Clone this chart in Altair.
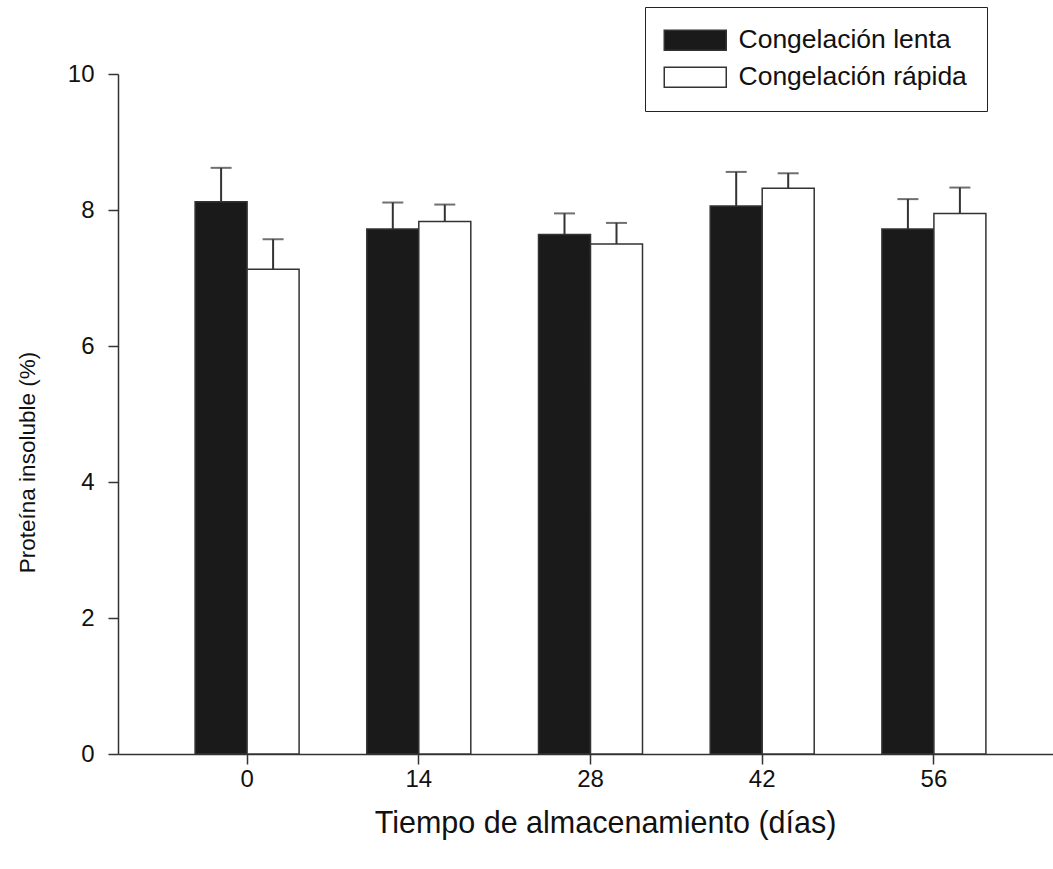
import altair as alt
import pandas as pd

dias = ["0", "14", "28", "42", "56"]
series = ["Congelación lenta", "Congelación rápida"]
lenta = [8.12, 7.72, 7.64, 8.06, 7.72]
lenta_err = [0.50, 0.39, 0.31, 0.50, 0.44]
rapida = [7.13, 7.83, 7.50, 8.32, 7.95]
rapida_err = [0.44, 0.25, 0.31, 0.22, 0.38]

rows = []
for i, d in enumerate(dias):
    rows.append({"dia": d, "serie": series[0], "valor": lenta[i], "sup": lenta[i] + lenta_err[i]})
    rows.append({"dia": d, "serie": series[1], "valor": rapida[i], "sup": rapida[i] + rapida_err[i]})
df = pd.DataFrame(rows)

FONT = "Liberation Sans"

x_enc = alt.X(
    "dia:N",
    sort=dias,
    scale=alt.Scale(range=[0, 945], paddingInner=0.3943, paddingOuter=0.449),
    axis=alt.Axis(
        title="Tiempo de almacenamiento (días)",
        labelAngle=0,
        labelPadding=3,
        titleFontSize=30.5,
        titleX=487,
        titleY=69,
        titleBaseline="middle",
    ),
)
xoff = alt.XOffset("serie:N", sort=series, scale=alt.Scale(paddingInner=0, paddingOuter=0))

bars = alt.Chart(df).mark_bar(stroke="#333333", strokeWidth=1.5).encode(
    x=x_enc,
    xOffset=xoff,
    y=alt.Y(
        "valor:Q",
        scale=alt.Scale(domain=[0, 10], nice=False, zero=True),
        axis=alt.Axis(
            title="Proteína insoluble (%)",
            values=[0, 2, 4, 6, 8, 10],
            format="d",
            labelPadding=14,
            titleFontSize=22.5,
            titleX=-91,
            titleY=388,
            titleBaseline="middle",
        ),
    ),
    fill=alt.Fill(
        "serie:N",
        sort=series,
        scale=alt.Scale(domain=series, range=["#1a1a1a", "#ffffff"]),
        legend=alt.Legend(
            title=None,
            orient="none",
            legendX=527,
            legendY=-67,
            direction="vertical",
            strokeColor="#222222",
            fillColor="#ffffff",
            padding=20,
            symbolType="M-1.4,-1H4.8V1H-1.4Z",
            symbolSize=400,
            symbolStrokeColor="#333333",
            symbolStrokeWidth=1.5,
            labelOffset=47,
            labelFontSize=26.5,
            labelFont=FONT,
            labelColor="#111111",
            labelLimit=0,
            rowPadding=10,
        ),
    ),
)

stems = alt.Chart(df).mark_rule(color="#333333", strokeWidth=2).encode(
    x=x_enc, xOffset=xoff, y="valor:Q", y2="sup:Q"
)
caps = alt.Chart(df).mark_tick(color="#333333", thickness=2, size=21, orient="horizontal").encode(
    x=x_enc, xOffset=xoff, y="sup:Q"
)

chart = alt.layer(bars, stems, caps).properties(
    width=935,
    height=680,
    background="white",
    autosize=alt.AutoSizeParams(type="none"),
    padding={"left": 118, "top": 74, "right": 0, "bottom": 115},
).configure_view(stroke=None).configure_axis(
    domainColor="#333333",
    domainWidth=1.5,
    tickColor="#333333",
    tickWidth=1.5,
    tickSize=10,
    labelFont=FONT,
    labelFontSize=24,
    labelColor="#111111",
    titleFont=FONT,
    titleColor="#111111",
    titleFontWeight="normal",
    grid=False,
)

chart.save("out.html", embed_options={"renderer": "svg", "actions": False})
